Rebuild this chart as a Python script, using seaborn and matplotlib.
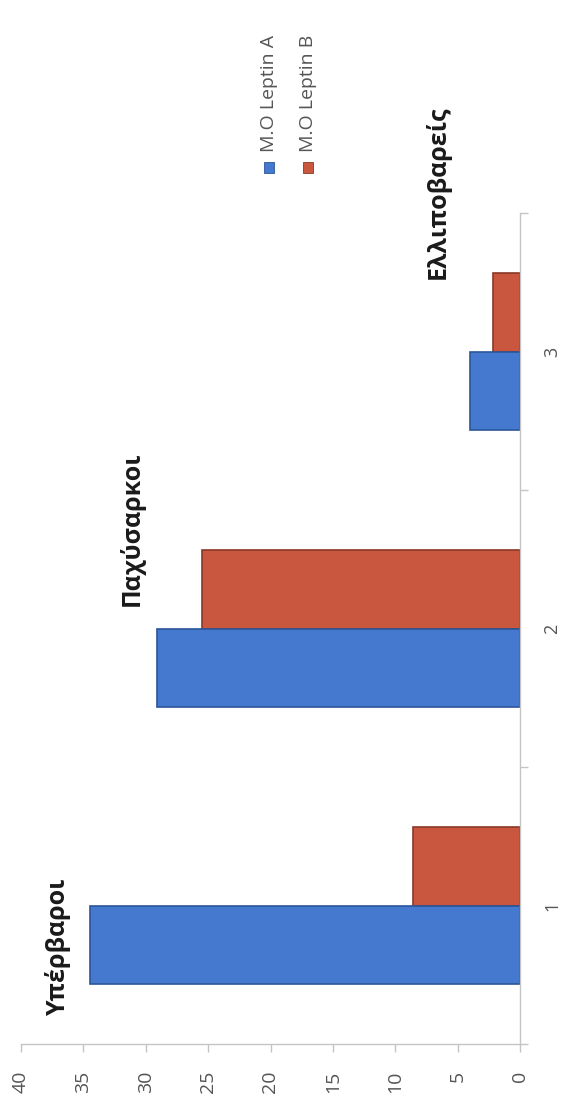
import matplotlib
matplotlib.use("Agg")
import matplotlib.pyplot as plt
from matplotlib.patches import Rectangle
from matplotlib.ticker import FixedLocator
import seaborn as sns
import pandas as pd

# Data
groups = ["1", "2", "3"]
series = ["M.O Leptin A", "M.O Leptin B"]
leptin_a = [34.5, 29.1, 4.0]
leptin_b = [8.6, 25.5, 2.2]
group_names = ["Υπέρβαροι", "Παχύσαρκοι", "Ελλιποβαρείς"]
value_ticks = [0, 5, 10, 15, 20, 25, 30, 35, 40]

colors = {"M.O Leptin A": "#4579D0", "M.O Leptin B": "#C9573F"}
edges = {"M.O Leptin A": "#2B5598", "M.O Leptin B": "#8A3826"}

df = pd.DataFrame({
    "Group": groups * 2,
    "Series": [series[0]] * 3 + [series[1]] * 3,
    "Value": leptin_a + leptin_b,
})

sns.set_style("white")
plt.rcParams["font.family"] = ["Open Sans", "DejaVu Sans"]

fig = plt.figure(figsize=(5.65, 10.94), dpi=100)
ax = fig.add_axes([21 / 565, 50 / 1094, 499 / 565, 831 / 1094])

# Page-rotated column chart: values run right-to-left, groups bottom-to-top
order = groups[::-1]
hue_order = series[::-1]
sns.barplot(data=df, y="Group", x="Value", hue="Series", order=order,
            hue_order=hue_order, palette=colors, orient="h", width=0.57,
            gap=0, saturation=1, ax=ax, legend=False,
            err_kws={"linewidth": 0})

for cont, name in zip(ax.containers, hue_order):
    for bar in cont:
        bar.set_edgecolor(edges[name])
        bar.set_linewidth(1.2)

ax.set_xlim(40, 0)
ax.set_ylim(len(groups) - 0.5, -0.5)
ax.set_xlabel("")
ax.set_ylabel("")

axis_grey = "#C4C4C4"
label_grey = "#555555"
for side in ["top", "left"]:
    ax.spines[side].set_visible(False)
for side in ["bottom", "right"]:
    ax.spines[side].set_color(axis_grey)
    ax.spines[side].set_linewidth(1.0)

ax.set_xticks(value_ticks)
ax.set_xticklabels([str(v) for v in value_ticks], rotation=90,
                   fontsize=14, color=label_grey)
ax.tick_params(axis="x", direction="out", length=6, width=1,
               color=axis_grey, pad=13, bottom=True)

ax.yaxis.tick_right()
ax.set_yticks(range(len(order)))
ax.set_yticklabels(order, rotation=90, fontsize=13, color=label_grey,
                   va="center")
ax.yaxis.set_minor_locator(FixedLocator([i - 0.5 for i in range(len(order) + 1)]))
ax.tick_params(axis="y", which="major", length=0, pad=17, right=True, left=False)
ax.tick_params(axis="y", which="minor", length=6, width=1, color=axis_grey,
               direction="out", right=True, left=False)

# Group names written beside each pair of bars
name_x = [37.0, 31.1, 6.6]
name_y = [2.40, 0.92, -0.26]
for name, x, y in zip(group_names, name_x, name_y):
    ax.text(x, y, name, rotation=90, ha="center", va="bottom",
            fontsize=18, fontweight="bold", color="#1A1A1A")

# Legend, turned with the rest of the chart
leg_x = [269 / 565, 308 / 565]
for name, lx in zip(series, leg_x):
    fig.patches.append(Rectangle((lx - 5 / 565, 1 - 173 / 1094),
                                 10 / 565, 11 / 1094,
                                 transform=fig.transFigure,
                                 facecolor=colors[name],
                                 edgecolor=edges[name], linewidth=0.6))
    fig.text(lx, 1 - 152 / 1094, name, rotation=90, ha="center",
             va="bottom", fontsize=14, color=label_grey)

fig.savefig("out.png", dpi=100)
